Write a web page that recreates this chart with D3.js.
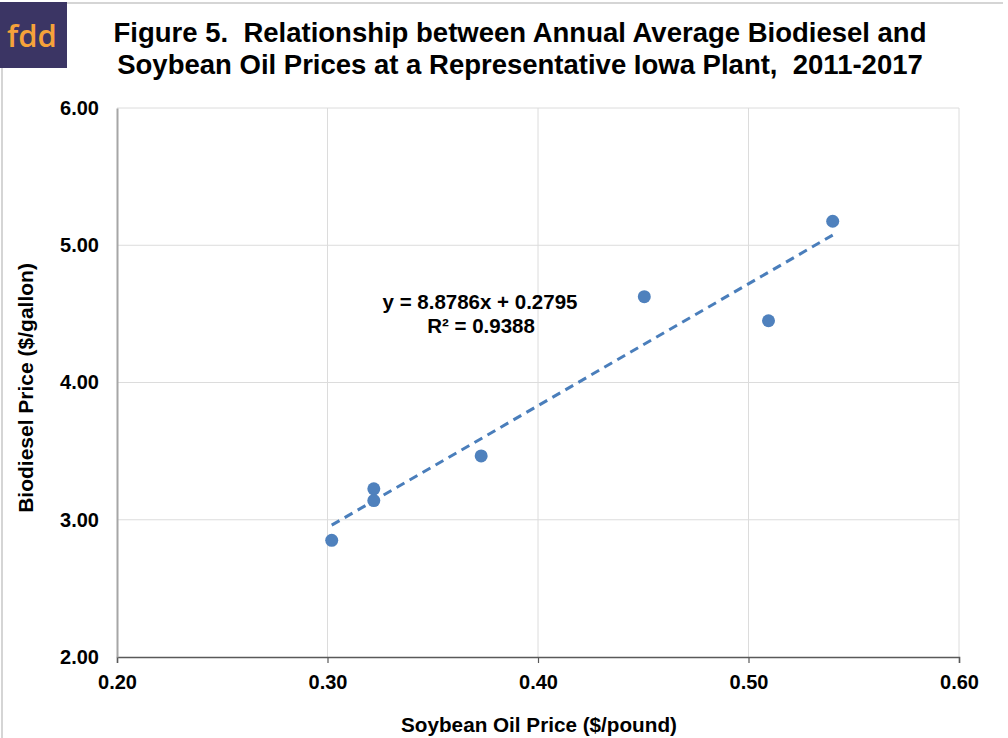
<!DOCTYPE html>
<html>
<head>
<meta charset="utf-8">
<script src="https://cdn.jsdelivr.net/npm/d3@7"></script>
<style>
  body { margin: 0; background: #fff; }
  svg text { font-family: "Liberation Sans", Arial, sans-serif; font-weight: bold; fill: #000; }
</style>
</head>
<body>
<div class="chart"></div>
<script>
// soybean oil price ($/lb) vs biodiesel price ($/gal), annual averages
const soyOil = [0.302, 0.322, 0.322, 0.373, 0.4505, 0.5095, 0.540];
const biodiesel = [2.85, 3.225, 3.14, 3.465, 4.625, 4.45, 5.175];
const xTicks = [0.20, 0.30, 0.40, 0.50, 0.60];
const yTicks = [2.00, 3.00, 4.00, 5.00, 6.00];
const slope = 8.8786;
const intercept = 0.2795;

const width = 1008;
const height = 738;
const margin = { top: 108, right: 49, bottom: 81, left: 117 };

const svg = d3.select(".chart")
  .append("svg")
  .attr("width", width)
  .attr("height", height);

//Border lines and logo
svg.append("path")
  .attr("d", `M2,738 V3 H1003`)
  .attr("fill", "none")
  .attr("stroke", "#c8c8c8")
  .attr("stroke-width", 1.5);

svg.append("rect")
  .attr("x", 0).attr("y", 2)
  .attr("width", 67).attr("height", 66)
  .attr("fill", "#3b3564");

svg.append("text")
  .attr("x", 32).attr("y", 47)
  .attr("text-anchor", "middle")
  .style("font-family", "'Open Sans', sans-serif")
  .style("font-size", "31px")
  .style("font-weight", "600")
  .style("fill", "#f6a23a")
  .text("fdd");

//Title
const title = svg.append("text")
  .attr("text-anchor", "middle")
  .style("font-size", "27.5px");
title.append("tspan").attr("x", 520).attr("y", 42)
  .text("Figure 5.\u00a0 Relationship between Annual Average Biodiesel and");
title.append("tspan").attr("x", 520).attr("y", 74)
  .text("Soybean Oil Prices at a Representative Iowa Plant,\u00a0 2011-2017");

//Scales
const xScale = d3.scaleLinear()
  .domain([0.20, 0.60])
  .range([margin.left, width - margin.right]);

const yScale = d3.scaleLinear()
  .domain([2.00, 6.00])
  .range([height - margin.bottom, margin.top]);

//Gridlines
svg.append("g")
  .selectAll("line")
  .data(xTicks.slice(1))
  .join("line")
  .attr("x1", d => xScale(d)).attr("x2", d => xScale(d))
  .attr("y1", yScale(6)).attr("y2", yScale(2))
  .attr("stroke", "#dcdcdc");

svg.append("g")
  .selectAll("line")
  .data(yTicks.slice(1))
  .join("line")
  .attr("x1", xScale(0.2)).attr("x2", xScale(0.6))
  .attr("y1", d => yScale(d)).attr("y2", d => yScale(d))
  .attr("stroke", "#dcdcdc");

//Axes
const xAxis = d3.axisBottom(xScale)
  .tickValues(xTicks)
  .tickFormat(d3.format(".2f"))
  .tickSize(6)
  .tickPadding(12);

const xAxisGroup = svg.append("g")
  .attr("transform", `translate(0, ${yScale(2)})`)
  .call(xAxis);
xAxisGroup.select(".domain").attr("stroke", "#595959").attr("stroke-width", 1.5);
xAxisGroup.selectAll(".tick line").attr("stroke", "#595959").attr("stroke-width", 1.2);
xAxisGroup.selectAll(".tick text")
  .style("font-size", "20px")
  .style("font-family", "'Liberation Sans', Arial, sans-serif")
  .style("font-weight", "bold")
  .attr("fill", "#000");

const yAxis = d3.axisLeft(yScale)
  .tickValues(yTicks)
  .tickFormat(d3.format(".2f"))
  .tickSize(0)
  .tickPadding(18);

const yAxisGroup = svg.append("g")
  .attr("transform", `translate(${xScale(0.2)}, 0)`)
  .call(yAxis);
yAxisGroup.select(".domain").attr("stroke", "#a6a6a6").attr("stroke-width", 2);
yAxisGroup.selectAll(".tick text")
  .style("font-size", "20px")
  .style("font-family", "'Liberation Sans', Arial, sans-serif")
  .style("font-weight", "bold")
  .attr("fill", "#000");

//Axis titles
svg.append("text")
  .attr("x", 539)
  .attr("y", 732)
  .attr("text-anchor", "middle")
  .style("font-size", "20.7px")
  .text("Soybean Oil Price ($/pound)");

svg.append("text")
  .attr("transform", `translate(33, 388) rotate(-90)`)
  .attr("text-anchor", "middle")
  .style("font-size", "21px")
  .text("Biodiesel Price ($/gallon)");

//Trendline
const xMin = d3.min(soyOil);
const xMax = d3.max(soyOil);
svg.append("line")
  .attr("x1", xScale(xMin)).attr("y1", yScale(slope * xMin + intercept))
  .attr("x2", xScale(xMax)).attr("y2", yScale(slope * xMax + intercept))
  .attr("stroke", "#4a7ebb")
  .attr("stroke-width", 3)
  .attr("stroke-dasharray", "9,6");

//Points
svg.append("g")
  .selectAll("circle")
  .data(soyOil.map((d, i) => ({ x: d, y: biodiesel[i] })))
  .join("circle")
  .attr("cx", d => xScale(d.x))
  .attr("cy", d => yScale(d.y))
  .attr("r", 6.5)
  .attr("fill", "#4f81bd");

//Equation label
const eq = svg.append("text")
  .attr("text-anchor", "middle")
  .style("font-size", "20.5px");
eq.append("tspan").attr("x", 480).attr("y", 309).text("y = 8.8786x + 0.2795");
eq.append("tspan").attr("x", 481).attr("y", 333).text("R\u00b2 = 0.9388");
</script>
</body>
</html>
